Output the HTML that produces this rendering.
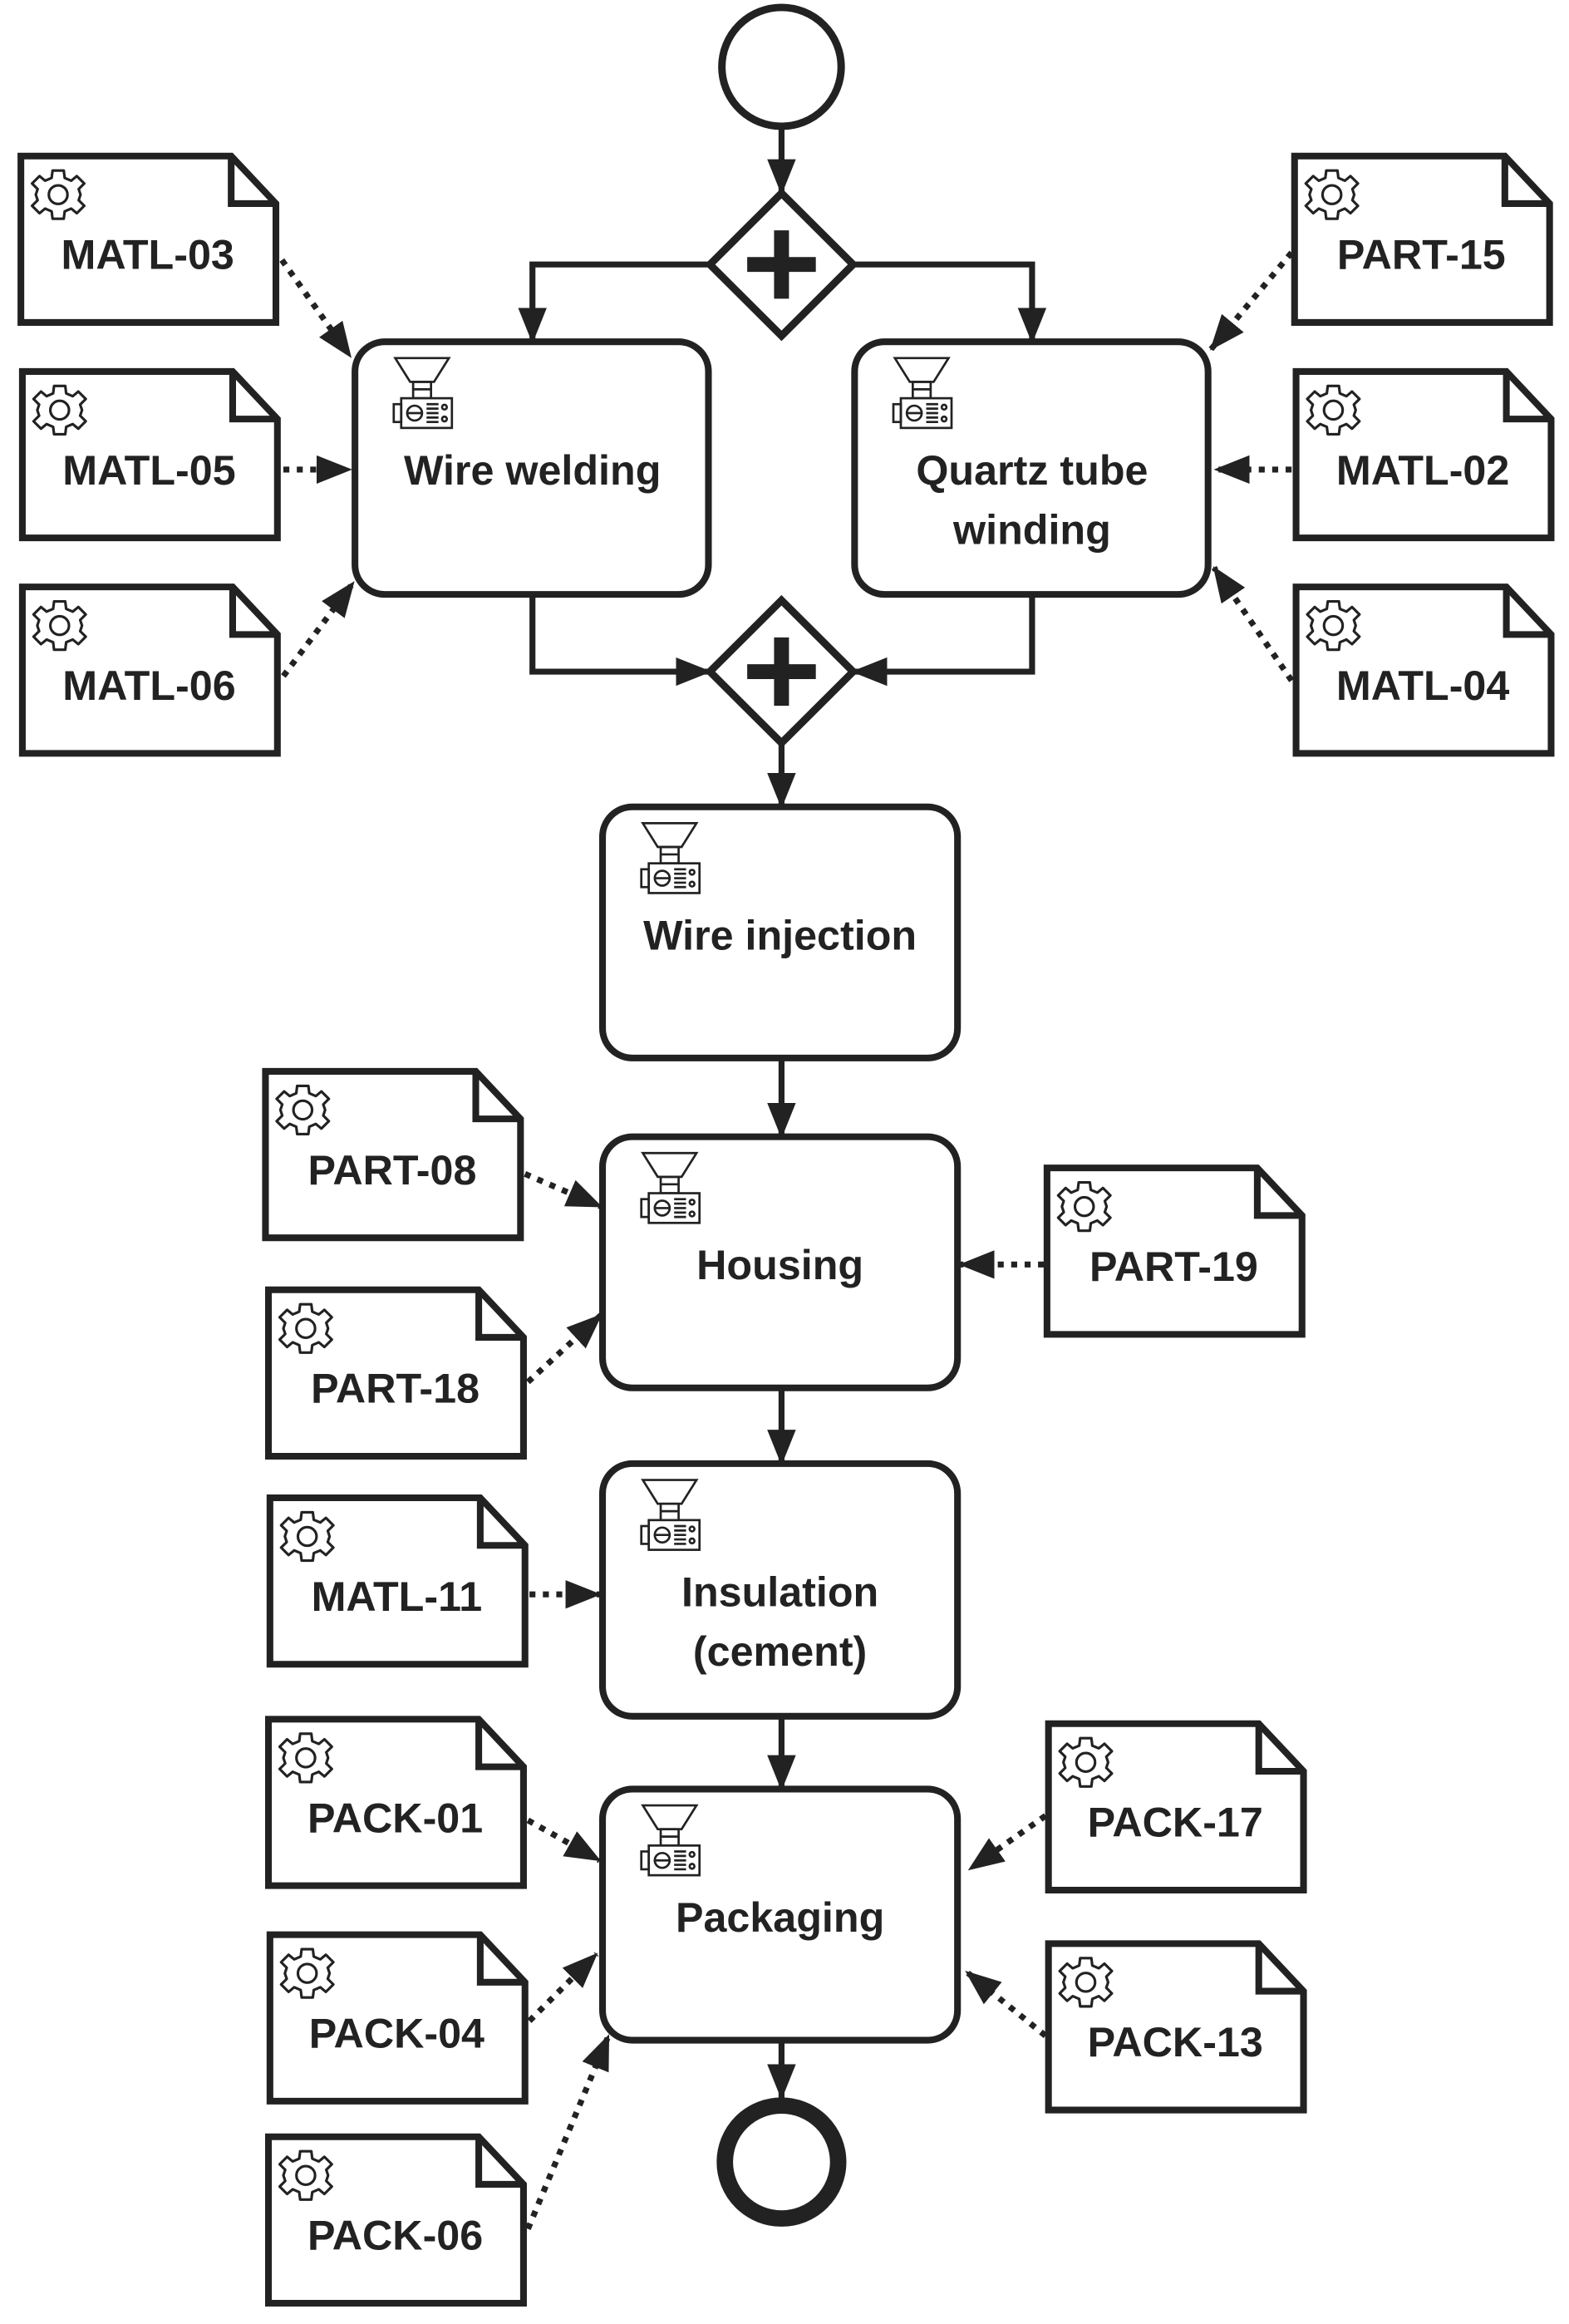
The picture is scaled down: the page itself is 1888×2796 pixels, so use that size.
<!DOCTYPE html>
<html><head><meta charset="utf-8"><style>html,body{margin:0;padding:0;background:#fff}svg{display:block}</style></head>
<body>
<svg width="1888" height="2796" viewBox="0 0 1052 1564" preserveAspectRatio="none" xmlns="http://www.w3.org/2000/svg">
<defs>
<marker id="a" markerUnits="userSpaceOnUse" markerWidth="24" markerHeight="24" viewBox="0 0 20 20" refX="19" refY="10" orient="auto"><path d="M0,2 L20,10 L0,18 z" fill="#222"/></marker>
<g id="gear" transform="scale(1.25)"><circle cx="0" cy="0" r="5" fill="none" stroke="#222" stroke-width="1.4"/>
<path d="M-3,-13 L3,-13 L3.5,-9 L7,-7.5 L10,-10 L14,-6 L11,-3 L12,0 L11,3 L14,6 L10,10 L7,7.5 L3.5,9 L3,13 L-3,13 L-3.5,9 L-7,7.5 L-10,10 L-14,6 L-11,3 L-12,0 L-11,-3 L-14,-6 L-10,-10 L-7,-7.5 L-3.5,-9 z" fill="none" stroke="#222" stroke-width="1.4" stroke-linejoin="round"/></g>
<g id="mach" fill="none" stroke="#222" stroke-width="1.5"><path d="M0,0 L36,0 L26,16 L10,16 z" fill="#fff"/><rect x="12" y="16" width="12" height="11"/><line x1="12" y1="21" x2="24" y2="21"/><rect x="4" y="27" width="34" height="20" fill="#fff"/><rect x="-1" y="31" width="5" height="12"/><circle cx="13" cy="37" r="5"/><line x1="8" y1="37" x2="18" y2="37"/><path d="M21,31h8M21,34h8M21,37h8M21,40h8M21,43h8"/><circle cx="33" cy="33" r="1.6"/><circle cx="33" cy="41" r="1.6"/></g>
</defs>
<g font-family="Liberation Sans, sans-serif" font-weight="bold" fill="#222" stroke-linecap="butt">
<circle cx="524" cy="45" r="40" fill="#fff" stroke="#222" stroke-width="5"/>
<circle cx="524" cy="1455" r="38" fill="#fff" stroke="#222" stroke-width="11"/>
<g stroke="#222" stroke-width="4" fill="none" marker-end="url(#a)">
<line x1="524" y1="85" x2="524" y2="130"/>
<polyline points="476,178 357,178 357,230"/>
<polyline points="572,178 692,178 692,230"/>
<polyline points="357,400 357,452 476,452"/>
<polyline points="692,400 692,452 572,452"/>
<line x1="524" y1="500" x2="524" y2="543"/>
<line x1="524" y1="712" x2="524" y2="765"/>
<line x1="524" y1="934" x2="524" y2="985"/>
<line x1="524" y1="1155" x2="524" y2="1204"/>
<line x1="524" y1="1373" x2="524" y2="1412"/>
</g>
<g stroke="#222" stroke-width="5" fill="#fff">
<path d="M524,130 L572,178 L524,226 L476,178 z"/>
<path d="M524,404 L572,452 L524,500 L476,452 z"/>
</g>
<g stroke="#222" stroke-width="10"><path d="M524,155v46M501,178h46M524,429v46M501,452h46"/></g>
<g stroke="#222" stroke-width="4.5" fill="#fff">
<rect x="238" y="230" width="237" height="170" rx="20"/>
<rect x="573" y="230" width="237" height="170" rx="20"/>
<rect x="404" y="543" width="238" height="169" rx="20"/>
<rect x="404" y="765" width="238" height="169" rx="20"/>
<rect x="404" y="985" width="238" height="170" rx="20"/>
<rect x="404" y="1204" width="238" height="169" rx="20"/>
</g>
<use href="#mach" x="265" y="241"/><use href="#mach" x="600" y="241"/>
<use href="#mach" x="431" y="554"/><use href="#mach" x="431" y="776"/>
<use href="#mach" x="431" y="996"/><use href="#mach" x="431" y="1215"/>
<g font-size="28" text-anchor="middle">
<text x="357" y="326">Wire welding</text>
<text x="692" y="326">Quartz tube</text><text x="692" y="366">winding</text>
<text x="523" y="639">Wire injection</text>
<text x="523" y="861">Housing</text>
<text x="523" y="1081">Insulation</text><text x="523" y="1121">(cement)</text>
<text x="523" y="1300">Packaging</text>
</g>
<g font-size="28" text-anchor="middle">
<g transform="translate(14,105)"><path d="M0,0 H141 L171,32 V112 H0 z M141,0 V32 H171" fill="#fff" stroke="#222" stroke-width="4.5"/><use href="#gear" x="25" y="26"/><text x="85" y="76">MATL-03</text></g>
<g transform="translate(15,250)"><path d="M0,0 H141 L171,32 V112 H0 z M141,0 V32 H171" fill="#fff" stroke="#222" stroke-width="4.5"/><use href="#gear" x="25" y="26"/><text x="85" y="76">MATL-05</text></g>
<g transform="translate(15,395)"><path d="M0,0 H141 L171,32 V112 H0 z M141,0 V32 H171" fill="#fff" stroke="#222" stroke-width="4.5"/><use href="#gear" x="25" y="26"/><text x="85" y="76">MATL-06</text></g>
<g transform="translate(868,105)"><path d="M0,0 H141 L171,32 V112 H0 z M141,0 V32 H171" fill="#fff" stroke="#222" stroke-width="4.5"/><use href="#gear" x="25" y="26"/><text x="85" y="76">PART-15</text></g>
<g transform="translate(869,250)"><path d="M0,0 H141 L171,32 V112 H0 z M141,0 V32 H171" fill="#fff" stroke="#222" stroke-width="4.5"/><use href="#gear" x="25" y="26"/><text x="85" y="76">MATL-02</text></g>
<g transform="translate(869,395)"><path d="M0,0 H141 L171,32 V112 H0 z M141,0 V32 H171" fill="#fff" stroke="#222" stroke-width="4.5"/><use href="#gear" x="25" y="26"/><text x="85" y="76">MATL-04</text></g>
<g transform="translate(178,721)"><path d="M0,0 H141 L171,32 V112 H0 z M141,0 V32 H171" fill="#fff" stroke="#222" stroke-width="4.5"/><use href="#gear" x="25" y="26"/><text x="85" y="76">PART-08</text></g>
<g transform="translate(180,868)"><path d="M0,0 H141 L171,32 V112 H0 z M141,0 V32 H171" fill="#fff" stroke="#222" stroke-width="4.5"/><use href="#gear" x="25" y="26"/><text x="85" y="76">PART-18</text></g>
<g transform="translate(702,786)"><path d="M0,0 H141 L171,32 V112 H0 z M141,0 V32 H171" fill="#fff" stroke="#222" stroke-width="4.5"/><use href="#gear" x="25" y="26"/><text x="85" y="76">PART-19</text></g>
<g transform="translate(181,1008)"><path d="M0,0 H141 L171,32 V112 H0 z M141,0 V32 H171" fill="#fff" stroke="#222" stroke-width="4.5"/><use href="#gear" x="25" y="26"/><text x="85" y="76">MATL-11</text></g>
<g transform="translate(180,1157)"><path d="M0,0 H141 L171,32 V112 H0 z M141,0 V32 H171" fill="#fff" stroke="#222" stroke-width="4.5"/><use href="#gear" x="25" y="26"/><text x="85" y="76">PACK-01</text></g>
<g transform="translate(181,1302)"><path d="M0,0 H141 L171,32 V112 H0 z M141,0 V32 H171" fill="#fff" stroke="#222" stroke-width="4.5"/><use href="#gear" x="25" y="26"/><text x="85" y="76">PACK-04</text></g>
<g transform="translate(180,1438)"><path d="M0,0 H141 L171,32 V112 H0 z M141,0 V32 H171" fill="#fff" stroke="#222" stroke-width="4.5"/><use href="#gear" x="25" y="26"/><text x="85" y="76">PACK-06</text></g>
<g transform="translate(703,1160)"><path d="M0,0 H141 L171,32 V112 H0 z M141,0 V32 H171" fill="#fff" stroke="#222" stroke-width="4.5"/><use href="#gear" x="25" y="26"/><text x="85" y="76">PACK-17</text></g>
<g transform="translate(703,1308)"><path d="M0,0 H141 L171,32 V112 H0 z M141,0 V32 H171" fill="#fff" stroke="#222" stroke-width="4.5"/><use href="#gear" x="25" y="26"/><text x="85" y="76">PACK-13</text></g>
</g>
<g stroke="#222" stroke-width="4" stroke-dasharray="4 5" fill="none" marker-end="url(#a)">
<line x1="189" y1="175" x2="235" y2="240"/>
<line x1="190" y1="316" x2="235" y2="316"/>
<line x1="190" y1="455" x2="237" y2="392"/>
<line x1="866" y1="170" x2="812" y2="235"/>
<line x1="866" y1="316" x2="815" y2="316"/>
<line x1="866" y1="458" x2="814" y2="382"/>
<line x1="352" y1="790" x2="403" y2="812"/>
<line x1="354" y1="930" x2="403" y2="885"/>
<line x1="700" y1="851" x2="644" y2="851"/>
<line x1="355" y1="1073" x2="402" y2="1073"/>
<line x1="354" y1="1225" x2="402" y2="1252"/>
<line x1="355" y1="1360" x2="400" y2="1315"/>
<line x1="354" y1="1500" x2="408" y2="1370"/>
<line x1="701" y1="1222" x2="650" y2="1258"/>
<line x1="701" y1="1370" x2="648" y2="1327"/>
</g>
</g>
</svg>
</body></html>
